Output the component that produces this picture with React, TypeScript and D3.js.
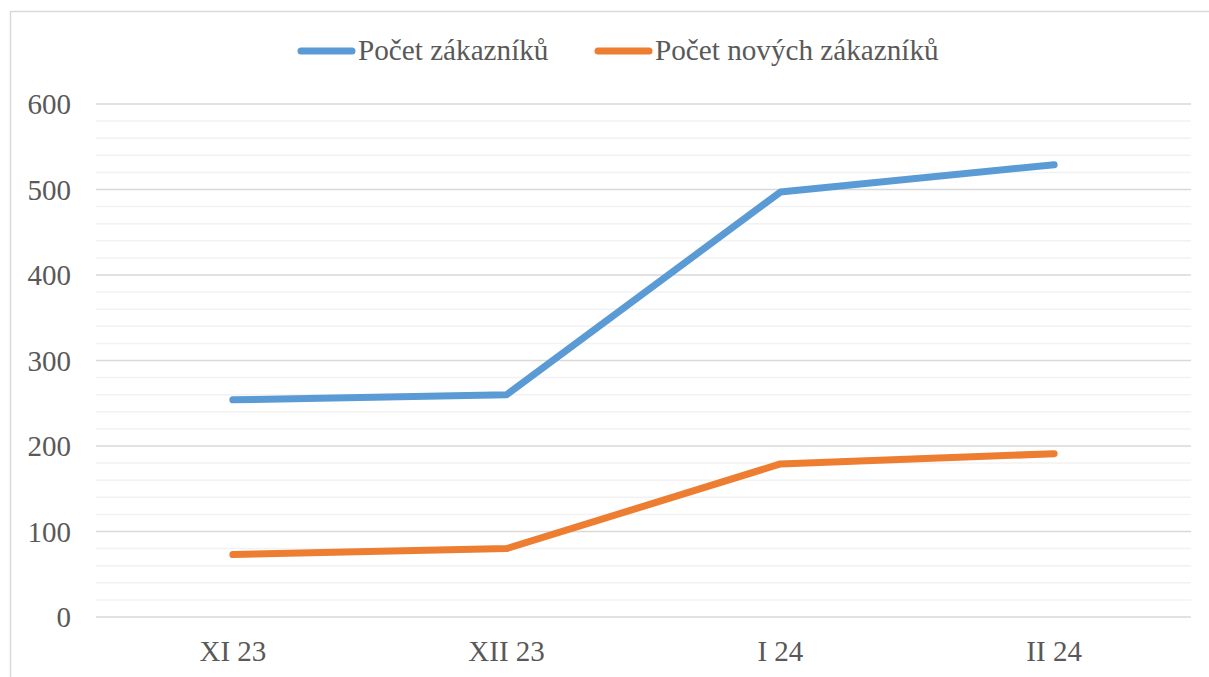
import React from "react";
import * as d3 from "d3";

const categories = ["XI 23", "XII 23", "I 24", "II 24"];
const seriesNames = ["Počet zákazníků", "Počet nových zákazníků"];
const totalCustomers = [254, 260, 497, 529];
const newCustomers = [73, 80, 179, 191];
const yTicks = [0, 100, 200, 300, 400, 500, 600];
const yMinorTicks = d3.range(0, 601, 20);
const colors = ["#5b9bd5", "#ed7d31"];

const W = 1209;
const H = 677;
const FONT = "'Liberation Serif', 'Times New Roman', serif";

export default function App() {
  const x = d3.scaleBand<string>().domain(categories).range([96, 1191]).padding(0);
  const y = d3.scaleLinear().domain([0, 600]).range([617, 104]);
  const line = d3
    .line<number>()
    .x((_, i) => (x(categories[i]) as number) + x.bandwidth() / 2)
    .y((d) => y(d));
  const series = [totalCustomers, newCustomers];
  const legendX = [298, 595];

  return (
    <svg
      width={W}
      height={H}
      style={{ position: "absolute", left: 0, top: 0, display: "block", background: "#fff" }}
      fontFamily={FONT}
    >
      <rect x={0} y={0} width={W} height={H} fill="#fff" />
      <rect x={10.5} y={11.5} width={W + 20} height={H + 20} fill="none" stroke="#d9d9d9" strokeWidth={1.5} />
      {yMinorTicks
        .filter((t) => t % 100 !== 0)
        .map((t) => (
          <line key={"m" + t} x1={96} x2={1191} y1={y(t)} y2={y(t)} stroke="#f2f2f2" strokeWidth={1.5} />
        ))}
      {yTicks.map((t) => (
        <line key={"g" + t} x1={96} x2={1191} y1={y(t)} y2={y(t)} stroke="#d9d9d9" strokeWidth={1.5} />
      ))}
      {yTicks.map((t) => (
        <text key={"t" + t} x={71} y={y(t) + 10} textAnchor="end" fontSize={29} fill="#595959">
          {t}
        </text>
      ))}
      {categories.map((c) => (
        <text
          key={c}
          x={(x(c) as number) + x.bandwidth() / 2}
          y={661}
          textAnchor="middle"
          fontSize={29}
          fill="#595959"
        >
          {c}
        </text>
      ))}
      {series.map((s, i) => (
        <path
          key={"s" + i}
          d={line(s) || ""}
          fill="none"
          stroke={colors[i]}
          strokeWidth={7}
          strokeLinecap="round"
          strokeLinejoin="round"
        />
      ))}
      {seriesNames.map((n, i) => (
        <g key={n}>
          <line
            x1={legendX[i] + 3}
            x2={legendX[i] + 54}
            y1={51}
            y2={51}
            stroke={colors[i]}
            strokeWidth={7}
            strokeLinecap="round"
          />
          <text x={legendX[i] + 60} y={60} fontSize={29.2} fill="#595959">
            {n}
          </text>
        </g>
      ))}
    </svg>
  );
}
